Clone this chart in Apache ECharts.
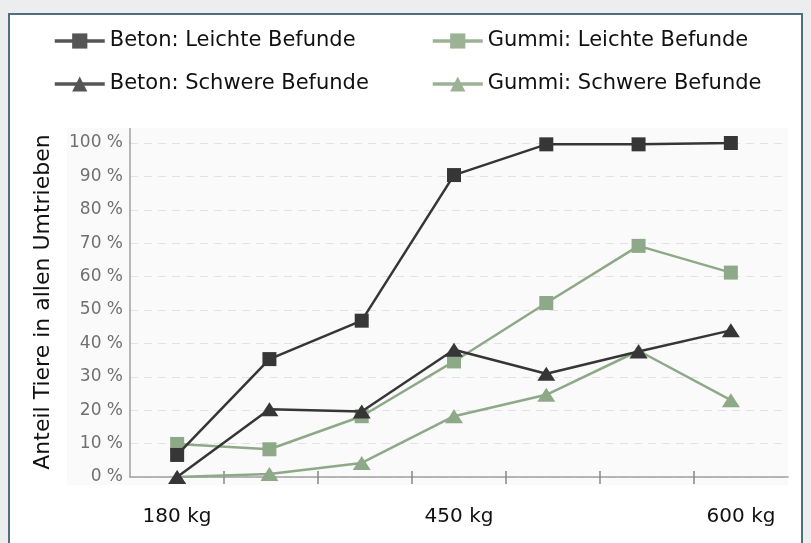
<!DOCTYPE html>
<html>
<head>
<meta charset="utf-8">
<title>Befunde Beton / Gummi</title>
<script src="https://cdn.jsdelivr.net/npm/echarts@6.0.0/dist/echarts.min.js"></script>
<style>
	html, body { margin: 0; padding: 0; background: #ebedef; }
	#echart-container { width: 811px; height: 543px; }
</style>
</head>
<body>
<div id="echart-container"></div>
<script>
	// Gewichtsklassen (7 Kategorien, nur 3 beschriftet)
	var categories = ['180 kg', '', '', '450 kg', '', '', '600 kg'];
	var labelIndex = [0, 3, 6];
	var tickLabels = ['180 kg', '450 kg', '600 kg'];
	var yTicks = [0, 10, 20, 30, 40, 50, 60, 70, 80, 90, 100];

	// Anteil Tiere in % je Kategorie
	var betonLeicht = [6.6, 35.3, 46.8, 90.4, 99.6, 99.6, 100];
	var gummiLeicht = [9.9, 8.3, 18.2, 34.6, 52.1, 69.2, 61.2];
	var betonSchwer = [0, 20.3, 19.6, 38.1, 30.9, 37.6, 43.9];
	var gummiSchwer = [0, 0.9, 4.2, 18.2, 24.6, 37.8, 23];

	var seriesNames = ['Beton: Leichte Befunde', 'Gummi: Leichte Befunde', 'Beton: Schwere Befunde', 'Gummi: Schwere Befunde'];

	var dark = '#363636';
	var green = '#8ea987';
	var fontAxis = 'DejaVu Sans';

	function initEcharts() {
		var dom = document.getElementById('echart-container');
		var myChart = echarts.init(dom, null, { renderer: 'canvas' });

		function legendItem(name, color) {
			return { name: name, itemStyle: { color: color }, lineStyle: { color: color, width: 3.5 } };
		}

		function makeLegend(left, items) {
			return {
				orient: 'vertical',
				left: left, top: 30, padding: 0,
				itemWidth: 50, itemHeight: 19, itemGap: 21,
				textStyle: { fontFamily: fontAxis, fontSize: 21, color: '#111', lineHeight: 22 },
				selectedMode: false,
				data: items
			};
		}

		function makeSeries(name, data, color, symbol, size, z) {
			return {
				name: name,
				type: 'line',
				xAxisIndex: 2,
				yAxisIndex: 1,
				data: data,
				symbol: symbol,
				symbolSize: size,
				showAllSymbol: true,
				z: z,
				lineStyle: { color: color, width: 2.5 },
				itemStyle: { color: color },
				emphasis: { disabled: true }
			};
		}

		var option = {
			backgroundColor: '#ebedef',
			animation: false,
			graphic: [
				{
					type: 'rect', z: -20,
					shape: { x: 9, y: 14, width: 793, height: 545 },
					style: { fill: '#ffffff', stroke: '#4f6e7e', lineWidth: 2 }
				},
				{
					type: 'rect', z: -10,
					shape: { x: 67, y: 128, width: 721, height: 357 },
					style: { fill: '#fafafa' }
				},
				{
					type: 'line', z: 5,
					shape: { x1: 130, y1: 128, x2: 130, y2: 143 },
					style: { stroke: '#a0a0a0', lineWidth: 1.5 }
				}
			],
			legend: [
				makeLegend(53, [legendItem(seriesNames[0], '#555555'), legendItem(seriesNames[2], '#555555')]),
				makeLegend(431, [legendItem(seriesNames[1], '#9bb394'), legendItem(seriesNames[3], '#9bb394')])
			],
			grid: [
				{ left: 130, right: 23, top: 143, bottom: 66 },
				{ left: 131, right: 34, top: 143, bottom: 66 }
			],
			xAxis: [
				{
					gridIndex: 0, type: 'value', min: 0, max: 7, position: 'bottom',
					axisLine: { show: true, lineStyle: { color: '#a0a0a0', width: 1.5 } },
					axisTick: { show: true, length: 7, customValues: [1, 2, 3, 4, 5, 6], lineStyle: { color: '#888', width: 1.5 } },
					axisLabel: {
						show: true, margin: 30,
						customValues: labelIndex.map(function (i) { return i + 0.5; }),
						formatter: function (v) { return tickLabels[labelIndex.indexOf(v - 0.5)]; },
						fontFamily: fontAxis, fontSize: 20, color: '#111'
					},
					splitLine: { show: false }
				},
				{
					gridIndex: 0, type: 'value', min: 0, max: 7, position: 'bottom',
					axisLine: { show: false },
					axisTick: { show: true, inside: true, length: 6, customValues: [1, 2, 3, 4, 5, 6], lineStyle: { color: '#888', width: 1.5 } },
					axisLabel: { show: false },
					splitLine: { show: false }
				},
				{
					gridIndex: 1, type: 'category', data: categories, boundaryGap: true,
					show: false
				}
			],
			yAxis: [
				{
					gridIndex: 0, type: 'value', min: yTicks[0], max: yTicks[yTicks.length - 1], interval: 10,
					name: 'Anteil Tiere in allen Umtrieben',
					nameLocation: 'middle', nameGap: 76,
					nameTextStyle: { fontFamily: fontAxis, fontSize: 22, color: '#111', padding: [0, 0, 0, 16] },
					axisLine: { show: true, lineStyle: { color: '#a0a0a0', width: 1.5 } },
					axisTick: { show: false },
					axisLabel: { formatter: '{value} %', margin: 7, fontFamily: fontAxis, fontSize: 17, color: '#707070' },
					splitLine: { show: true, lineStyle: { color: '#e2e2e2', type: [8, 6], width: 1 } }
				},
				{
					gridIndex: 1, type: 'value', min: 0, max: 100, show: false,
					splitLine: { show: false }
				}
			],
			series: [
				makeSeries(seriesNames[1], gummiLeicht, green, 'rect', 14, 2),
				makeSeries(seriesNames[3], gummiSchwer, green, 'triangle', [18, 14], 2),
				makeSeries(seriesNames[0], betonLeicht, dark, 'rect', 14, 3),
				makeSeries(seriesNames[2], betonSchwer, dark, 'triangle', [18, 14], 3)
			]
		};
		if (option && typeof option === 'object') {
			myChart.setOption(option, true);
		}
	}

	initEcharts();
</script>
</body>
</html>
